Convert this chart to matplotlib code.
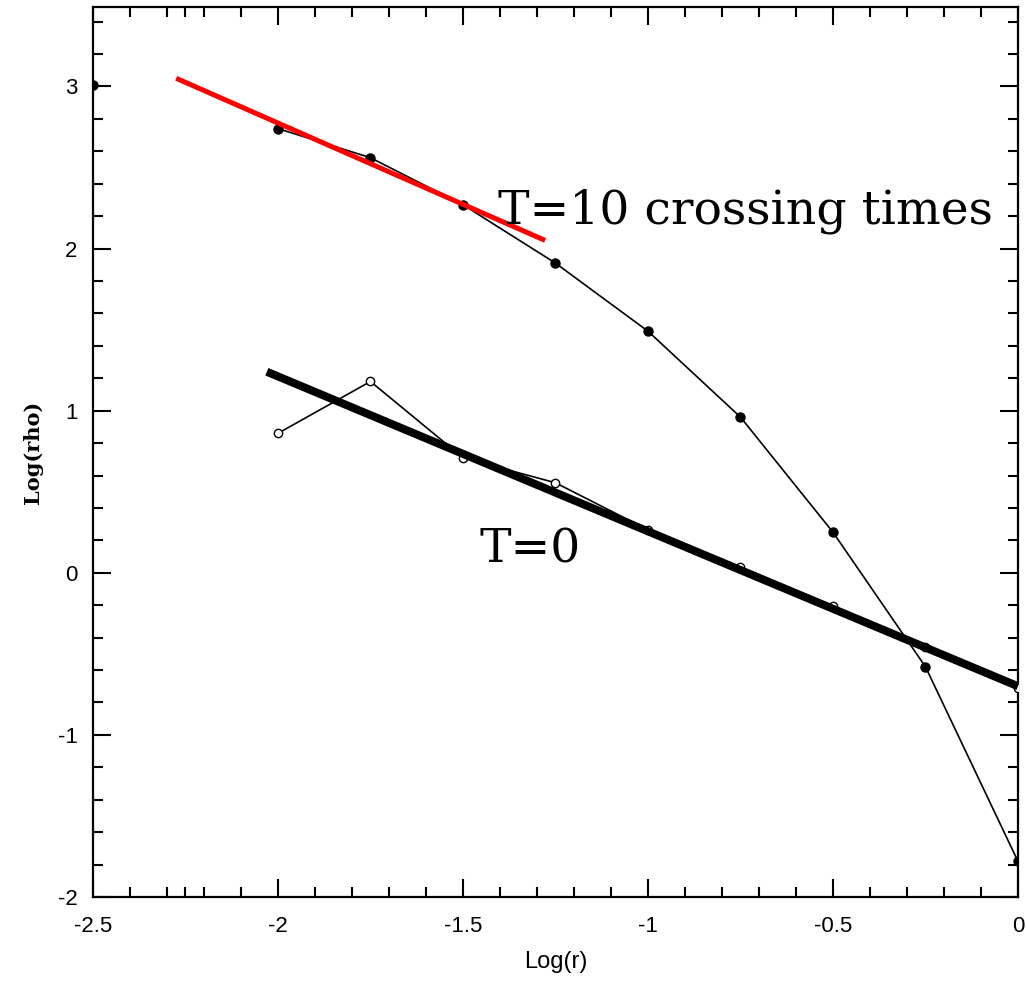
import matplotlib
matplotlib.use("Agg")
import matplotlib.pyplot as plt
import numpy as np

# log radius sample points and density profiles
log_r = [-2.0, -1.75, -1.5, -1.25, -1.0, -0.75, -0.5, -0.25, 0.0]
rho_t10 = [2.74, 2.56, 2.27, 1.91, 1.49, 0.96, 0.25, -0.58, -1.78]
rho_t0 = [0.86, 1.18, 0.71, 0.555, 0.265, 0.035, -0.205, -0.455, -0.71]
# stray point sitting on the left edge
edge_r = [-2.5]
edge_rho = [3.01]

# power-law fits drawn over the profiles
fit_t0_r = [-2.03, 0.0]
fit_t0_rho = [1.24, -0.70]
fit_t10_r = [-2.275, -1.278]
fit_t10_rho = [3.05, 2.05]

fig = plt.figure(figsize=(10.26, 9.81), dpi=100)
ax = fig.add_axes([0.0906, 0.0856, 0.9016, 0.9073])

ax.plot(log_r, rho_t10, '-', color='black', lw=1.2, marker='o', ms=6.5,
        mfc='black', mec='black', zorder=3)
ax.plot(edge_r, edge_rho, 'o', color='black', ms=6.5, zorder=3)
ax.plot(log_r, rho_t0, '-', color='black', lw=1.2, marker='o', ms=6,
        mfc='white', mec='black', mew=1.0, zorder=3)

ax.plot(fit_t0_r, fit_t0_rho, color='black', lw=5.8, solid_capstyle='butt', zorder=4)
ax.plot(fit_t10_r, fit_t10_rho, color='red', lw=3.6, solid_capstyle='butt', zorder=4)

ax.text(-1.405, 2.155, 'T=10 crossing times', family='DejaVu Serif',
        fontsize=34, color='black', zorder=5)
ax.text(-1.455, 0.065, 'T=0', family='DejaVu Serif', fontsize=34,
        color='black', zorder=5)

ax.set_xlim(-2.5, 0)
ax.set_ylim(-2, 3.49)
ax.set_xticks([-2.5, -2, -1.5, -1, -0.5, 0])
ax.set_xticklabels(['-2.5', '-2', '-1.5', '-1', '-0.5', '0'])
ax.set_xticks(list(np.arange(-2.4, 0, 0.1)) + [-2.25], minor=True)
ax.set_yticks([-2, -1, 0, 1, 2, 3])
ax.set_yticklabels(['-2', '-1', '0', '1', '2', '3'])
ax.set_yticks([v for v in np.arange(-1.8, 3.5, 0.2) if abs(v - round(v)) > 1e-6],
              minor=True)

ax.tick_params(which='both', direction='in', top=True, right=True, width=1.5,
               labelsize=16, colors='black')
ax.tick_params(which='major', length=13)
ax.tick_params(which='minor', length=7)
ax.tick_params(axis='x', which='major', pad=14)
ax.tick_params(axis='y', which='major', pad=11)
for lab in ax.get_xticklabels() + ax.get_yticklabels():
    lab.set_family('Liberation Sans')
for s in ax.spines.values():
    s.set_linewidth(1.6)

ax.set_xlabel('Log(r)', family='Liberation Sans', fontsize=17, labelpad=10)
ax.set_ylabel('Log(rho)', family='DejaVu Serif', fontsize=15,
              fontweight='bold', labelpad=11)

fig.savefig('out.png', dpi=100)
